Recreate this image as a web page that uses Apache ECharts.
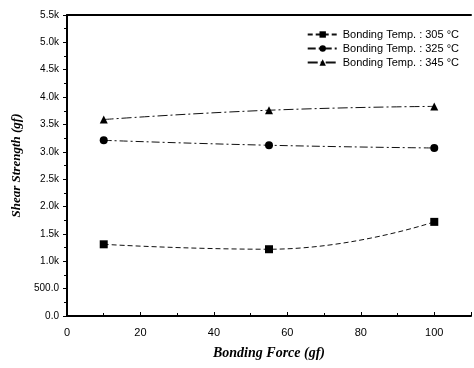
<!DOCTYPE html>
<html>
<head>
<meta charset="utf-8">
<script src="https://cdn.jsdelivr.net/npm/echarts@6/dist/echarts.min.js"></script>
<style>
  html, body { margin: 0; padding: 0; background: #fff; }
  #chart { width: 474px; height: 368px; }
</style>
</head>
<body>
<div id="chart"></div>
<script>
// bonding force (gf)
const forces = [10, 55, 100]
const temp305 = [1310, 1220, 1720]
const temp325 = [3210, 3120, 3070]
const temp345 = [3590, 3760, 3830]
const seriesNames = [
    'Bonding Temp. : 305 °C',
    'Bonding Temp. : 325 °C',
    'Bonding Temp. : 345 °C'
]

const pairs = (ys) => forces.map((x, i) => [x, ys[i]])

const chart = echarts.init(document.getElementById('chart'))

const lineSeries = (name, ys, symbol, dash) => ({
    name,
    type: 'line',
    data: pairs(ys),
    smooth: true,
    symbol,
    symbolSize: 8,
    itemStyle: { color: '#000' },
    lineStyle: { color: '#111', width: 1, type: dash }
})

chart.setOption({
    animation: false,
    backgroundColor: '#fff',
    grid: { left: 67, right: 0, top: 15, bottom: 52 },
    legend: {
        right: 10,
        top: 24,
        orient: 'vertical',
        itemGap: 3,
        itemWidth: 30,
        itemHeight: 8,
        textStyle: { fontFamily: 'Liberation Sans', fontSize: 11, color: '#000' },
        data: seriesNames
    },
    xAxis: [{
        type: 'value',
        min: 0,
        max: 110,
        interval: 20,
        name: 'Bonding Force (gf)',
        nameLocation: 'middle',
        nameGap: 30,
        nameTextStyle: { fontFamily: 'Liberation Serif', fontStyle: 'italic', fontWeight: 'bold', fontSize: 14, color: '#000' },
        axisLine: { lineStyle: { color: '#000', width: 2 } },
        axisTick: { inside: true, length: 4, lineStyle: { color: '#000' } },
        minorTick: { show: true, splitNumber: 2, length: 3, lineStyle: { color: '#000' } },
        axisLabel: {
            fontFamily: 'Liberation Sans', fontSize: 11, color: '#000', margin: 11,
            formatter: (v) => (v > 100 ? '' : String(v))
        },
        splitLine: { show: false }
    }, {
        type: 'value',
        position: 'top',
        min: 0,
        max: 110,
        axisLine: { show: true, lineStyle: { color: '#000', width: 2 } },
        axisTick: { show: false },
        axisLabel: { show: false },
        splitLine: { show: false }
    }],
    yAxis: {
        type: 'value',
        min: 0,
        max: 5500,
        interval: 500,
        name: 'Shear Strength (gf)',
        nameLocation: 'middle',
        nameGap: 36,
        nameTextStyle: { fontFamily: 'Liberation Serif', fontStyle: 'italic', fontWeight: 'bold', fontSize: 13, color: '#000' },
        axisLine: { show: true, lineStyle: { color: '#000', width: 2 } },
        axisTick: { length: 4, lineStyle: { color: '#000' } },
        minorTick: { show: true, splitNumber: 2, length: 3, lineStyle: { color: '#000' } },
        axisLabel: {
            fontFamily: 'Liberation Sans', fontSize: 10, color: '#000', margin: 8,
            formatter: (v) => (v >= 1000 ? (v / 1000).toFixed(1) + 'k' : v.toFixed(1))
        },
        splitLine: { show: false }
    },
    series: [
        lineSeries(seriesNames[0], temp305, 'rect', [5, 3]),
        lineSeries(seriesNames[1], temp325, 'circle', [8, 3, 2, 3]),
        lineSeries(seriesNames[2], temp345, 'triangle', [10, 3, 2, 3])
    ]
})
</script>
</body>
</html>
